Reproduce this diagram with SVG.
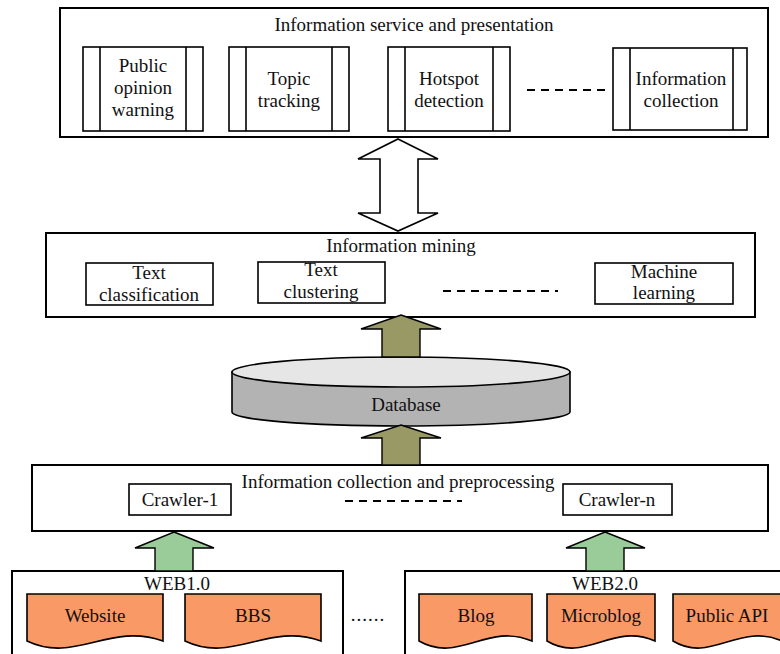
<svg xmlns="http://www.w3.org/2000/svg" width="780" height="654" viewBox="0 0 780 654">
<style>
text{font-family:'Liberation Serif','Times New Roman',Times,'DejaVu Serif',serif;font-size:19px;fill:#111;text-anchor:middle}
.box{fill:#fff;stroke:#000;stroke-width:2}
.ibox{fill:#fff;stroke:#000;stroke-width:1.6}
.ln{stroke:#000;stroke-width:1.6}
.dash{stroke:#000;stroke-width:2.2;stroke-dasharray:8,6;fill:none}
.doc{fill:#F99A66;stroke:#000;stroke-width:1.6}
.olive{fill:#999966;stroke:#000;stroke-width:1.4}
.green{fill:#99CC99;stroke:#000;stroke-width:1.4}
</style>
<rect width="780" height="654" fill="#fff"/>

<g id="service">
<rect class="box" x="60" y="8" width="708" height="129"/>
<text x="414" y="31">Information service and presentation</text>
<g id="s1"><rect class="ibox" x="83" y="47" width="120" height="84"/><line class="ln" x1="100" y1="47" x2="100" y2="131"/><line class="ln" x1="186" y1="47" x2="186" y2="131"/>
<text x="143" y="72">Public</text><text x="143" y="94">opinion</text><text x="143" y="116">warning</text></g>
<g id="s2"><rect class="ibox" x="229" y="47" width="120" height="84"/><line class="ln" x1="246" y1="47" x2="246" y2="131"/><line class="ln" x1="332" y1="47" x2="332" y2="131"/>
<text x="289" y="85">Topic</text><text x="289" y="107">tracking</text></g>
<g id="s3"><rect class="ibox" x="388" y="47" width="122" height="84"/><line class="ln" x1="405" y1="47" x2="405" y2="131"/><line class="ln" x1="493" y1="47" x2="493" y2="131"/>
<text x="449" y="85">Hotspot</text><text x="449" y="107">detection</text></g>
<line class="dash" x1="527" y1="90" x2="609" y2="90"/>
<g id="s4"><rect class="ibox" x="613" y="48" width="134" height="82"/><line class="ln" x1="630" y1="48" x2="630" y2="130"/><line class="ln" x1="733" y1="48" x2="733" y2="130"/>
<text x="681" y="85">Information</text><text x="681" y="107">collection</text></g>
</g>

<g id="mining">
<rect class="box" x="46" y="233" width="709" height="84"/>
<text x="401" y="252">Information mining</text>
<g id="m1"><rect class="ibox" x="86" y="263" width="127" height="42"/><text x="149" y="279">Text</text><text x="149" y="301">classification</text></g>
<g id="m2"><rect class="ibox" x="258" y="262" width="127" height="41"/><text x="321" y="276">Text</text><text x="321" y="298">clustering</text></g>
<line class="dash" x1="443" y1="291" x2="558" y2="291"/>
<g id="m3"><rect class="ibox" x="595" y="263" width="138" height="41"/><text x="664" y="278">Machine</text><text x="664" y="299">learning</text></g>
</g>

<g id="database">
<path d="M232 372 V412 A169 14 0 0 0 570 412 V372 Z" fill="#B3B3B3" stroke="#000" stroke-width="1.6"/>
<ellipse cx="401" cy="372" rx="169" ry="15" fill="#E6E6E6" stroke="#000" stroke-width="1.6"/>
<text x="406" y="411">Database</text>
</g>

<g id="collection">
<rect class="box" x="32" y="465" width="736" height="66"/>
<text x="398" y="488">Information collection and preprocessing</text>
<g id="c1"><rect class="ibox" x="129" y="484" width="102" height="31"/><text x="180" y="506">Crawler-1</text></g>
<line class="dash" x1="345" y1="501" x2="462" y2="501"/>
<g id="cn"><rect class="ibox" x="563" y="484" width="109" height="31"/><text x="617" y="506">Crawler-n</text></g>
</g>

<g id="web1">
<rect class="box" x="12" y="571" width="331" height="100"/>
<text x="177" y="590">WEB1.0</text>
<g id="website"><path class="doc" d="M27 594 H163 V641 C109 622 75 664 27 641 Z"/><text x="95" y="622">Website</text></g>
<g id="bbs"><path class="doc" d="M185 594 H321 V641 C267 622 233 664 185 641 Z"/><text x="253" y="622">BBS</text></g>
</g>
<text x="368" y="621" style="letter-spacing:1px">......</text>

<g id="web2">
<rect class="box" x="405" y="571" width="390" height="100"/>
<text x="605" y="590">WEB2.0</text>
<g id="blog"><path class="doc" d="M419 594 H532 V641 C487 622 459 664 419 641 Z"/><text x="476" y="622">Blog</text></g>
<g id="microblog"><path class="doc" d="M547 594 H655 V641 C612 622 585 664 547 641 Z"/><text x="601" y="622">Microblog</text></g>
<g id="publicapi"><path class="doc" d="M673 594 H782 V641 C738 622 711 664 673 641 Z"/><text x="727" y="622">Public API</text></g>
</g>

<g id="connectors">
<path d="M398 139 L438 159 H418 V213 H438 L398 231 L358 213 H380 V159 H358 Z" fill="#fff" stroke="#000" stroke-width="1.6"/>
<path class="olive" d="M401 315 L441 329 H420 V357 H382 V329 H361 Z"/>
<path class="olive" d="M401 425 L441 438 H420 V465 H382 V438 H361 Z"/>
<path class="green" d="M174 532 L214 548 H193 V571 H155 V548 H135 Z"/>
<path class="green" d="M605 532 L645 548 H624 V571 H586 V548 H566 Z"/>
</g>
</svg>
